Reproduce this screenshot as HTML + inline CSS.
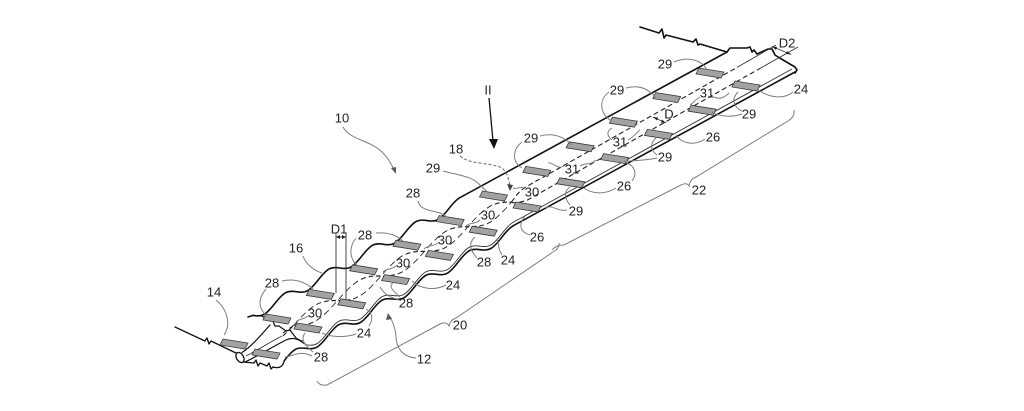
<!DOCTYPE html>
<html>
<head>
<meta charset="utf-8">
<style>
html,body{margin:0;padding:0;background:#fff;}
svg{display:block;}
.k{stroke:#111;stroke-width:1.6;fill:none;stroke-linejoin:round;stroke-linecap:round;}
.t{stroke:#333;stroke-width:0.9;fill:none;}
.g{stroke:#7d7d7d;stroke-width:1;fill:none;}
.d{stroke:#222;stroke-width:1.1;fill:none;stroke-dasharray:5 3;}
.dg{stroke:#666;stroke-width:1;fill:none;stroke-dasharray:3 2;}
text{font-family:"Liberation Sans",Arial,sans-serif;font-size:13px;fill:#222;text-anchor:middle;}
</style>
</head>
<body>
<svg width="1024" height="411" viewBox="0 0 1024 411" xmlns="http://www.w3.org/2000/svg">
<defs>
<polygon id="pad" points="-11,-5 14,-1 11,5 -14,1" fill="#a2a2a2" stroke="#3a3a3a" stroke-width="0.8"/>
</defs>
<rect width="1024" height="411" fill="#fff"/>

<!-- upper break line -->
<polyline class="k" points="640,27 659,33 662,29 664,38 666,35 693,42 696,39 698,45 700,44 727,52"/>
<!-- right end jagged -->
<polyline class="k" points="727,52 730,48 747,48 750,47 752,52 754,50 757,54 768,49 772,49 775,55 778,57 795,67 797,70 795,73"/>

<!-- back edge wavy -->
<path class="k" d="M248,317 L253,315.4"/>
<g transform="translate(340,268) skewY(-28.6)">
<path class="k" vector-effect="non-scaling-stroke" d="M-87,0
c3.625,2.618 7.25,5 10.875,5 c3.625,0 7.25,-2.382 10.875,-5 c3.625,-2.618 7.25,-5 10.875,-5 c3.625,0 7.25,2.382 10.875,5
c3.625,2.618 7.25,5 10.875,5 c3.625,0 7.25,-2.382 10.875,-5 c3.625,-2.618 7.25,-5 10.875,-5 c3.625,0 7.25,2.382 10.875,5
c3.625,2.618 7.25,5 10.875,5 c3.625,0 7.25,-2.382 10.875,-5 c3.625,-2.618 7.25,-5 10.875,-5 c3.625,0 7.25,2.382 10.875,5
c3.625,2.618 7.25,5 10.875,5 c3.625,0 7.25,-2.382 10.875,-5 c3.625,-2.618 7.25,-5 10.875,-5 c3.625,0 7.25,2.382 10.875,5
c3.625,2.618 7.25,5 10.875,5 c3.625,0 7.25,-2.382 10.875,-5 c3.625,-2.618 7.25,-5 10.875,-5"/>
</g>
<path class="k" d="M459.6,197.8 L727,52"/>

<!-- front edge wavy (thick) -->
<g transform="translate(393,299) skewY(-29.56)">
<path class="k" vector-effect="non-scaling-stroke" d="M-108.75,0
c3.625,-2.618 7.25,-5 10.875,-5 c3.625,0 7.25,2.382 10.875,5
c3.625,2.618 7.25,5 10.875,5 c3.625,0 7.25,-2.382 10.875,-5 c3.625,-2.618 7.25,-5 10.875,-5 c3.625,0 7.25,2.382 10.875,5
c3.625,2.618 7.25,5 10.875,5 c3.625,0 7.25,-2.382 10.875,-5 c3.625,-2.618 7.25,-5 10.875,-5 c3.625,0 7.25,2.382 10.875,5
c3.625,2.618 7.25,5 10.875,5 c3.625,0 7.25,-2.382 10.875,-5 c3.625,-2.618 7.25,-5 10.875,-5 c3.625,0 7.25,2.382 10.875,5
c3.625,2.618 7.25,5 10.875,5 c3.625,0 7.25,-2.382 10.875,-5 c3.625,-2.618 7.25,-5 10.875,-5 c3.625,0 7.25,2.382 10.875,5
c3.625,2.618 7.25,5 10.875,5 c3.625,0 7.25,-2.382 10.875,-5 c3.625,-2.618 7.25,-5 10.875,-5"/>
</g>
<path class="k" d="M512.6,226.1 L795,72"/>
<!-- front edge thin companion line -->
<g transform="translate(393,295.5) skewY(-29.56)">
<path class="t" vector-effect="non-scaling-stroke" d="M-87,0
c3.625,2.618 7.25,5 10.875,5 c3.625,0 7.25,-2.382 10.875,-5 c3.625,-2.618 7.25,-5 10.875,-5 c3.625,0 7.25,2.382 10.875,5
c3.625,2.618 7.25,5 10.875,5 c3.625,0 7.25,-2.382 10.875,-5 c3.625,-2.618 7.25,-5 10.875,-5 c3.625,0 7.25,2.382 10.875,5
c3.625,2.618 7.25,5 10.875,5 c3.625,0 7.25,-2.382 10.875,-5 c3.625,-2.618 7.25,-5 10.875,-5 c3.625,0 7.25,2.382 10.875,5
c3.625,2.618 7.25,5 10.875,5 c3.625,0 7.25,-2.382 10.875,-5 c3.625,-2.618 7.25,-5 10.875,-5 c3.625,0 7.25,2.382 10.875,5
c3.625,2.618 7.25,5 10.875,5 c3.625,0 7.25,-2.382 10.875,-5 c3.625,-2.618 7.25,-5 10.875,-5"/>
</g>
<path class="t" d="M512.6,222.6 L792,69"/>

<!-- left end: tube, line 14, funnel, cut edge -->
<polyline class="k" points="175,327 205,341 207,338 209,344 211,341 238,354" style="stroke-width:1.3"/>
<ellipse cx="240" cy="357.5" rx="3.5" ry="5.5" transform="rotate(-30 240 357.5)" fill="#fff" stroke="#111" stroke-width="1.3"/>
<polyline class="k" points="243,362 254,363 256,360 258,366 260,363 267,366 269,363 271,369 273,367" style="stroke-width:1.3"/>
<path class="k" d="M273,367 C280,369 283,366 284.25,360.7" style="stroke-width:1.3"/>
<path class="k" d="M242,352.5 C252,346 262,334 270,325" style="stroke-width:1.2"/>
<path class="k" d="M245,362 C258,356 272,347 286,340 C292,337 296,339 302,341" style="stroke-width:1.2"/>
<path class="t" d="M246,356 C258,350 270,342 282,336"/>
<polyline class="k" points="253,315.4 262,316 268,320 272,319 275,326 279,326 286,331 290,330 296,338 305,344" style="stroke-width:1.2"/>

<!-- dashed channels (braided) -->
<path class="d" d="M283,333 L294,325.2"/>
<path class="d" d="M283,336 L294,325.2"/>
<g transform="translate(294,325.2) skewY(-29.51)">
<path class="d" d="M0,0
c7.25,-4.189 14.5,-8 21.75,-8 c7.25,0 14.5,3.811 21.75,8
c7.25,-4.189 14.5,-8 21.75,-8 c7.25,0 14.5,3.811 21.75,8
c7.25,-4.189 14.5,-8 21.75,-8 c7.25,0 14.5,3.811 21.75,8
c7.25,-4.189 14.5,-8 21.75,-8 c7.25,0 14.5,3.811 21.75,8
c7.25,-4.189 14.5,-8 21.75,-8 c7.25,0 14.5,3.811 21.75,8"/>
<path class="d" d="M0,0
c7.25,4.189 14.5,8 21.75,8 c7.25,0 14.5,-3.811 21.75,-8
c7.25,4.189 14.5,8 21.75,8 c7.25,0 14.5,-3.811 21.75,-8
c7.25,4.189 14.5,8 21.75,8 c7.25,0 14.5,-3.811 21.75,-8
c7.25,4.189 14.5,8 21.75,8 c7.25,0 14.5,-3.811 21.75,-8
c7.25,4.189 14.5,8 21.75,8 c7.25,0 14.5,-3.811 21.75,-8"/>
</g>
<path class="d" d="M511.5,202.1 C515,197 520,190 527,186.3 L737,67.4"/>
<path class="d" d="M511.5,202.1 C515,204 520,202 527,200.3 L760,68.4"/>
<path class="t" d="M737,67.4 L776,45"/>
<path class="t" d="M760,68.4 L798,47"/>

<!-- D2 dimension -->
<path class="t" d="M772,46.5 L791,54.5"/>
<polygon points="772,46.5 777,47 776,50" fill="#222"/>
<polygon points="791,54.5 786,54 787,51" fill="#222"/>
<!-- D dimension -->
<path class="t" d="M653,117 L666,123"/>
<polygon points="653,117 658,117.5 657,120.5" fill="#222"/>
<polygon points="666,123 661,122.5 662,119.5" fill="#222"/>
<!-- D1 dimension -->
<path class="t" d="M336,233 L336,293"/>
<path class="t" d="M346,233 L346,300"/>
<path class="t" d="M336,237 L346,237"/>
<polygon points="336,237 340,235 340,239" fill="#222"/>
<polygon points="346,237 342,235 342,239" fill="#222"/>

<!-- pads -->
<use href="#pad" x="234" y="344"/>
<use href="#pad" x="266" y="354"/>
<use href="#pad" x="277" y="319"/>
<use href="#pad" x="320.3" y="294.4"/>
<use href="#pad" x="363.6" y="269.8"/>
<use href="#pad" x="406.9" y="245.2"/>
<use href="#pad" x="450.2" y="220.6"/>
<use href="#pad" x="493.5" y="196"/>
<use href="#pad" x="536.8" y="171.4"/>
<use href="#pad" x="580.1" y="146.8"/>
<use href="#pad" x="623.4" y="122.2"/>
<use href="#pad" x="666.7" y="97.6"/>
<use href="#pad" x="710" y="73"/>
<use href="#pad" x="308" y="328"/>
<use href="#pad" x="351.8" y="303.8"/>
<use href="#pad" x="395.6" y="279.6"/>
<use href="#pad" x="439.4" y="255.4"/>
<use href="#pad" x="483.2" y="231.2"/>
<use href="#pad" x="527" y="207"/>
<use href="#pad" x="570.8" y="182.8"/>
<use href="#pad" x="614.6" y="158.6"/>
<use href="#pad" x="658.4" y="134.4"/>
<use href="#pad" x="702.2" y="110.2"/>
<use href="#pad" x="746" y="86"/>

<!-- braces -->
<path class="g" d="M317,381 Q319,386 327,385 L440,324 Q446,321 449,326 Q450,320 456,318 L553,252 Q560,248 559,243"/>
<path class="g" d="M552,250 Q556,245 564,245 L681,185 Q687,182 689,186 Q690,179 696,177 L788,121 Q795,117 794,110"/>

<!-- arrows II and 10 -->
<path d="M489,98 L493,141" stroke="#111" stroke-width="1.3" fill="none"/>
<polygon points="494,149 489,139 498,139" fill="#111"/>
<path class="g" d="M343,127 C350,140 370,140 382,152 C389,159 392,165 394,170"/>
<polygon points="396,174 391,168 396,167" fill="#555"/>

<!-- 18 dashed leader -->
<path class="dg" d="M460,156 C470,165 490,162 502,168 C508,173 509,181 510,186"/>
<polygon points="510,191 507,184 513,185" fill="#444"/>

<!-- leaders -->
<path class="g" d="M674,62 C688,56 702,60 707,70"/>
<path class="g" d="M793,92 C785,99 770,99 757,89"/>
<path class="g" d="M626,88 C640,84 650,90 656,98"/>
<path class="g" d="M609,92 C598,100 600,115 612,121"/>
<path class="g" d="M700,97 C695,100 693,103 690,105"/>
<path class="g" d="M714,97 C720,100 725,97 729,93"/>
<path class="g" d="M742,111 C735,108 730,100 738,92"/>
<path class="g" d="M742,114 C730,118 718,116 712,112"/>
<path class="g" d="M705,139 C695,146 682,144 676,135"/>
<path class="g" d="M612,140 C606,135 607,131 612,128"/>
<path class="g" d="M628,140 C634,137 636,133 640,130"/>
<path class="g" d="M657,155 C650,150 650,143 656,138"/>
<path class="g" d="M657,158 C645,161 630,160 624,162"/>
<path class="g" d="M522,142 C512,150 512,162 522,168"/>
<path class="g" d="M540,136 C555,132 565,138 572,145"/>
<path class="g" d="M443,171 C458,175 470,176 478,183 C483,188 486,191 489,193"/>
<path class="g" d="M564,166 C558,170 553,162 548,163"/>
<path class="g" d="M580,166 C586,162 590,166 596,160"/>
<path class="g" d="M525,189 C520,185 518,190 513,188"/>
<path class="g" d="M567,210 C558,212 552,204 545,208"/>
<path class="g" d="M570,205 C563,197 565,190 570,187"/>
<path class="g" d="M616,188 C605,195 592,194 584,188"/>
<path class="g" d="M632,181 C638,173 634,166 627,163"/>
<path class="g" d="M418,201 C420,210 430,210 440,213 C445,215 447,217 448,218"/>
<path class="g" d="M480,220 C475,225 470,222 466,226"/>
<path class="g" d="M438,243 C432,247 428,245 424,249"/>
<path class="g" d="M530,235 C520,232 518,225 525,216"/>
<path class="g" d="M477,258 C470,250 468,243 475,237"/>
<path class="g" d="M502,255 C497,248 500,244 497,240"/>
<path class="g" d="M376,233 C390,232 398,236 404,242"/>
<path class="g" d="M356,238 C348,248 350,260 358,266"/>
<path class="g" d="M446,285 C435,291 420,289 412,281"/>
<path class="g" d="M399,300 C390,297 385,295 380,287"/>
<path class="g" d="M400,297 C393,291 388,286 393,283"/>
<path class="g" d="M396,266 C391,270 387,268 383,272"/>
<path class="g" d="M308,316 C303,320 300,318 296,322"/>
<path class="g" d="M356,334 C345,338 330,337 322,333"/>
<path class="g" d="M369,326 C374,318 372,313 366,309"/>
<path class="g" d="M312,356 C300,350 294,356 285,357"/>
<path class="g" d="M313,352 C305,345 300,340 305,333"/>
<path class="g" d="M416,358 C402,357 396,347 396,336 C395,326 392,320 389,316"/>
<polygon points="388,313 386,320 392,319" fill="#555"/>
<path class="g" d="M303,256 C305,262 312,270 322,273"/>
<path class="g" d="M216,300 C228,310 231,325 224,335"/>
<path class="g" d="M282,281 C295,278 305,282 313,289"/>
<path class="g" d="M266,289 C258,298 258,308 266,315"/>

<!-- labels -->
<text x="665" y="68.5">29</text>
<text x="787" y="47.5">D2</text>
<text x="801" y="93.5">24</text>
<text x="617" y="94.5">29</text>
<text x="707" y="97.5">31</text>
<text x="488" y="94.5">II</text>
<text x="342" y="122.5">10</text>
<text x="531" y="142.5">29</text>
<text x="669" y="118.5">D</text>
<text x="749" y="118.5">29</text>
<text x="620" y="146.5">31</text>
<text x="713" y="141.5">26</text>
<text x="456" y="153.5">18</text>
<text x="665" y="161.5">29</text>
<text x="433" y="172.5">29</text>
<text x="572" y="173.5">31</text>
<text x="624" y="190.5">26</text>
<text x="532" y="196.5">30</text>
<text x="699" y="194.5">22</text>
<text x="413" y="197.5">28</text>
<text x="488" y="219.5">30</text>
<text x="576" y="215.5">29</text>
<text x="365" y="239.5">28</text>
<text x="445" y="244.5">30</text>
<text x="537" y="241.5">26</text>
<text x="339" y="233.5">D1</text>
<text x="296" y="252.5">16</text>
<text x="484" y="266.5">28</text>
<text x="508" y="264.5">24</text>
<text x="403" y="267.5">30</text>
<text x="453" y="289.5">24</text>
<text x="272" y="287.5">28</text>
<text x="214" y="296.5">14</text>
<text x="315" y="317.5">30</text>
<text x="406" y="307.5">28</text>
<text x="460" y="329.5">20</text>
<text x="364" y="337.5">24</text>
<text x="424" y="363.5">12</text>
<text x="321" y="361.5">28</text>
</svg>
</body>
</html>
